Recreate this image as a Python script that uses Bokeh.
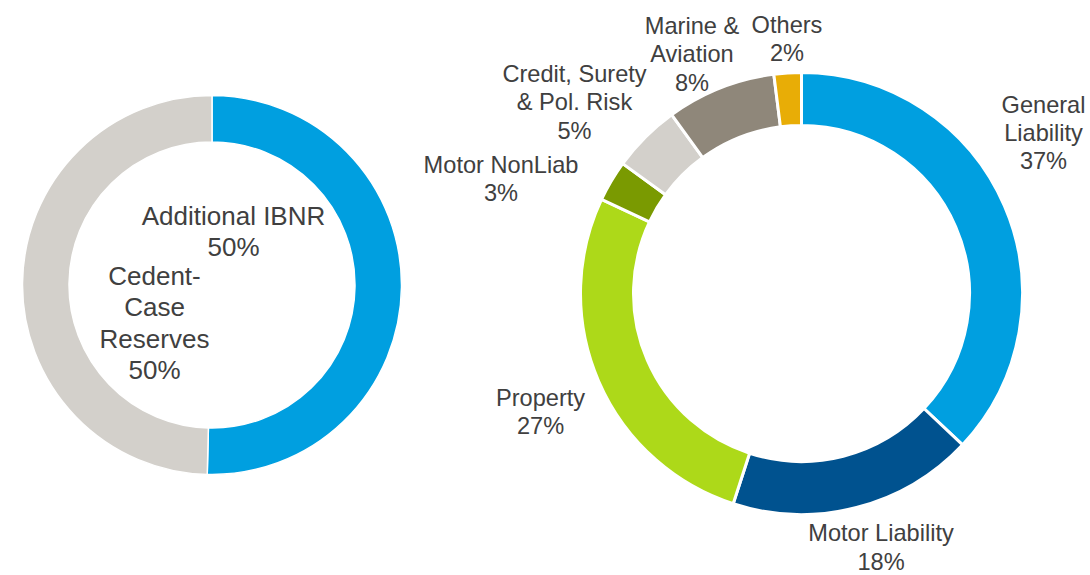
import numpy as np
from bokeh.plotting import figure
from bokeh.models import Range1d, ColumnDataSource
from bokeh.core.properties import value
from bokeh.embed import file_html
from bokeh.resources import INLINE

# ---- data ----
left_labels = ["Additional IBNR", "Cedent-\nCase\nReserves"]
left_values = [50.4, 49.6]
left_pct = ["50%", "50%"]
left_colors = ["#009FE0", "#D3D0CB"]

right_labels = ["General\nLiability", "Motor Liability", "Property", "Motor NonLiab",
                "Credit, Surety\n& Pol. Risk", "Marine &\nAviation", "Others"]
right_values = [37, 18, 27, 3, 5, 8, 2]
right_pct = ["37%", "18%", "27%", "3%", "5%", "8%", "2%"]
right_colors = ["#009FE0", "#00528F", "#ADD919", "#7A9A01", "#D3D0CB", "#8F877A", "#E8AD06"]

W, H = 1090, 575
p = figure(width=W, height=H, output_backend="svg", toolbar_location=None,
           x_range=Range1d(0, W), y_range=Range1d(0, H),
           min_border=0, outline_line_color=None)
p.axis.visible = False
p.grid.visible = False
p.background_fill_color = "white"
p.border_fill_color = "white"


def donut(cx, cy, r_in, r_out, vals, colors, lw):
    v = np.array(vals, dtype=float)
    frac = v / v.sum()
    cum = np.concatenate([[0], np.cumsum(frac)])
    start = np.pi / 2 - 2 * np.pi * cum[:-1]
    end = np.pi / 2 - 2 * np.pi * cum[1:]
    src = ColumnDataSource(dict(start=start, end=end, color=colors))
    p.annular_wedge(x=cx, y=cy, inner_radius=r_in, outer_radius=r_out,
                    start_angle="start", end_angle="end", direction="clock",
                    fill_color="color", line_color="white", line_width=lw,
                    source=src)


# screen y -> data y : H - y
donut(211.5, H - 284.5, 143, 189.5, left_values, left_colors, 1.5)
donut(801, H - 293, 168, 221, right_values, right_colors, 3)

TXT = "#404040"
FONT = value("Liberation Sans")

# label anchors (screen coords of block centers)
left_pos = [(233, 231), (154, 322.5)]
right_pos = [(1043, 132.5), (880.5, 547), (540, 411.5), (500.5, 178.5),
             (574, 102), (691.5, 54), (786.5, 38.5)]

lsrc = ColumnDataSource(dict(
    x=[a for a, b in left_pos], y=[H - b for a, b in left_pos],
    t=[f"{l}\n{q}" for l, q in zip(left_labels, left_pct)]))
p.text(x="x", y="y", text="t", source=lsrc, text_font=FONT, text_font_size="26px",
       text_color=TXT, text_align="center", text_baseline="middle", text_line_height=1.04)

rsrc = ColumnDataSource(dict(
    x=[a for a, b in right_pos], y=[H - b for a, b in right_pos],
    t=[f"{l}\n{q}" for l, q in zip(right_labels, right_pct)]))
p.text(x="x", y="y", text="t", source=rsrc, text_font=FONT, text_font_size="23.6px",
       text_color=TXT, text_align="center", text_baseline="middle", text_line_height=1.08)

open("out.html", "w").write(file_html(p, INLINE))
